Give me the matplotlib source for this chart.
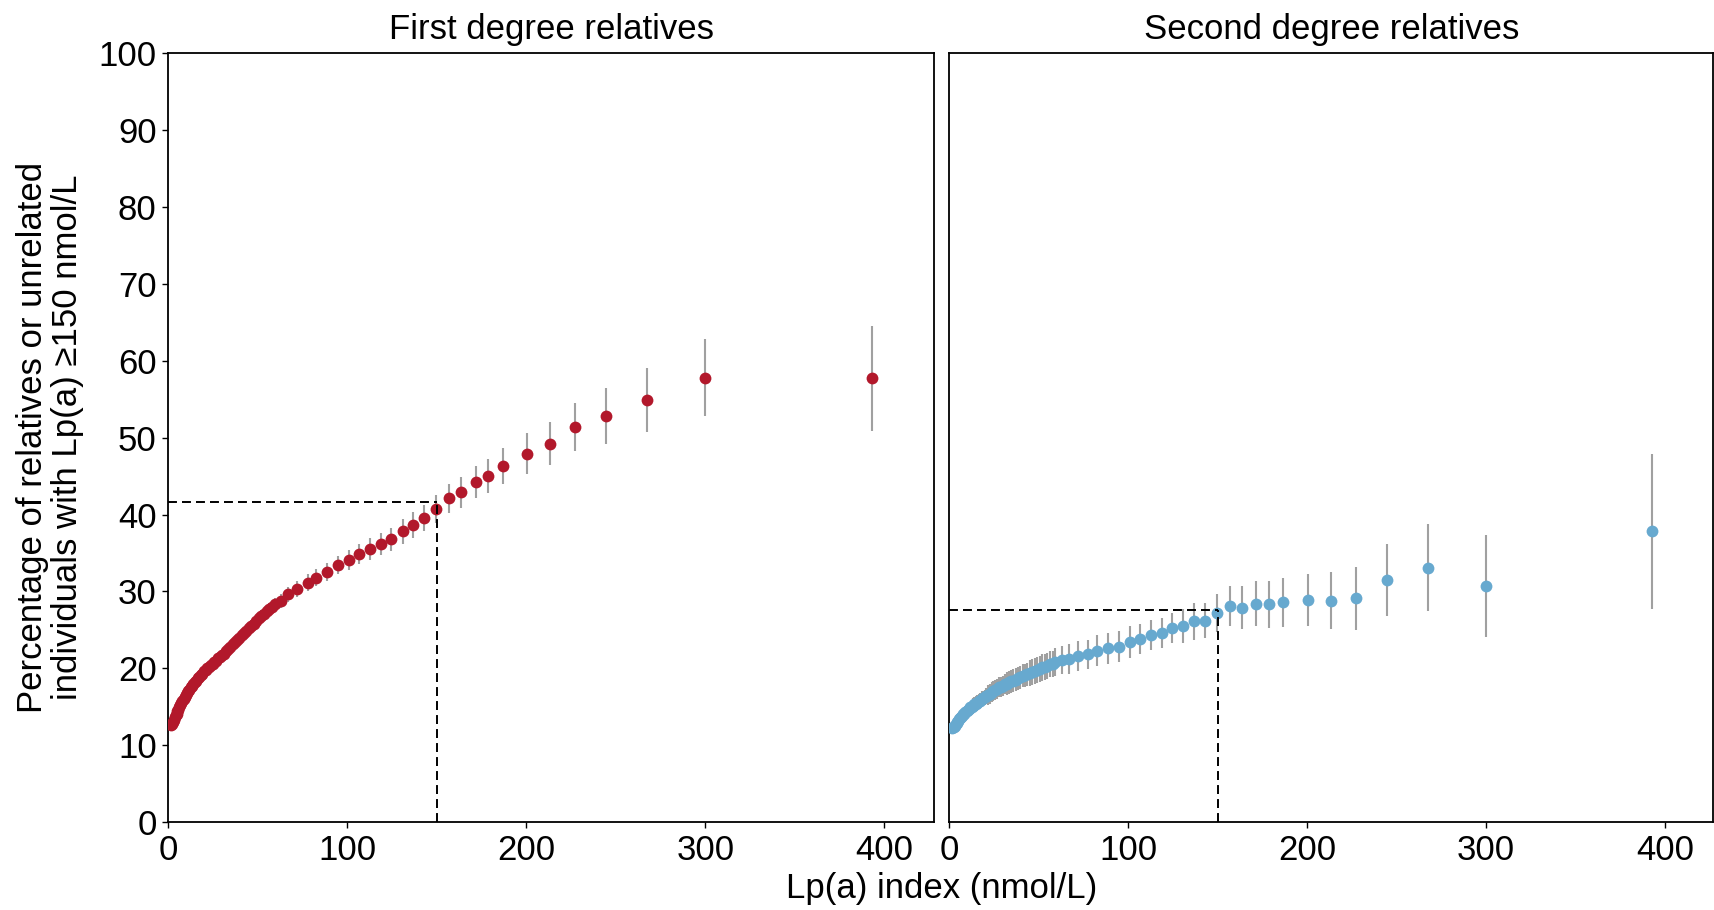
import matplotlib
matplotlib.use("Agg")
import matplotlib.pyplot as plt

# Lp(a) index values (shared by both panels)
lpa = [1.5, 2.0, 2.5, 3.0, 3.5, 4.0, 4.5, 5.0, 5.5, 6.0,
       6.6, 7.2, 7.8, 8.4, 9.0, 9.6, 10.3, 11.0, 11.7, 12.4,
       13.1, 13.9, 14.7, 15.5, 16.3, 17.1, 18.0, 18.9, 19.8, 20.7,
       21.6, 22.6, 23.6, 24.6, 25.6, 26.6, 27.7, 28.8, 29.9, 31.0,
       32.2, 33.4, 34.6, 35.8, 37.0, 38.3, 39.6, 40.9, 42.2, 43.5,
       44.8, 46.2, 47.6, 49.0, 50.4, 51.8, 53.3, 54.8, 56.3, 57.8,
       59.3, 62.9, 66.8, 71.8, 77.7, 82.7, 88.5, 94.8, 100.7, 106.7,
       112.6, 118.6, 124.5, 130.8, 136.6, 142.7, 149.4, 156.7, 163.6, 171.6,
       178.7, 186.7, 200.4, 213.4, 227.4, 244.4, 267.4, 300.1, 393.0]

# first degree relatives: % with Lp(a) >= 150 and half-width of CI
first_pct = [12.6, 12.8, 13.0, 13.3, 13.6, 13.9, 14.1, 14.4, 14.6, 14.9,
             15.2, 15.5, 15.8, 16.0, 16.3, 16.5, 16.8, 17.0, 17.2, 17.5,
             17.7, 18.0, 18.2, 18.4, 18.7, 18.9, 19.1, 19.3, 19.6, 19.8,
             20.0, 20.2, 20.4, 20.6, 20.8, 21.0, 21.3, 21.5, 21.7, 21.9,
             22.2, 22.5, 22.8, 23.1, 23.4, 23.7, 24.0, 24.3, 24.6, 24.9,
             25.2, 25.5, 25.8, 26.1, 26.5, 26.8, 27.1, 27.4, 27.7, 28.0,
             28.3, 28.8, 29.6, 30.3, 31.1, 31.8, 32.5, 33.4, 34.1, 34.9,
             35.5, 36.2, 36.8, 37.8, 38.6, 39.5, 40.7, 42.1, 42.9, 44.2,
             45.0, 46.3, 47.9, 49.2, 51.4, 52.8, 54.9, 57.8, 57.7]
first_err = [0.2] * 10 + [0.3] * 10 + [0.4] * 10 + [0.5] * 10 + [0.6] * 10 + [0.8] * 10 + \
            [0.9, 0.9, 1.0, 1.0, 1.1, 1.1, 1.2, 1.2, 1.3, 1.3,
             1.4, 1.4, 1.5, 1.6, 1.7, 1.7, 1.8, 1.9, 2.0, 2.1,
             2.2, 2.35, 2.65, 2.8, 3.15, 3.6, 4.1, 5.0, 6.85]

# second degree relatives
second_pct = [12.2, 12.3, 12.4, 12.5, 12.7, 12.9, 13.0, 13.2, 13.4, 13.5,
              13.7, 13.8, 14.0, 14.1, 14.3, 14.4, 14.6, 14.7, 14.9, 15.0,
              15.1, 15.3, 15.4, 15.5, 15.7, 15.8, 16.0, 16.1, 16.2, 16.4,
              16.5, 16.7, 16.9, 17.0, 17.2, 17.3, 17.5, 17.6, 17.7, 17.9,
              18.0, 18.2, 18.3, 18.4, 18.5, 18.7, 18.8, 19.0, 19.1, 19.2,
              19.4, 19.5, 19.6, 19.8, 19.9, 20.1, 20.2, 20.3, 20.5, 20.6,
              20.8, 21.1, 21.2, 21.6, 21.8, 22.3, 22.6, 22.8, 23.4, 23.8,
              24.3, 24.6, 25.2, 25.5, 26.1, 26.2, 27.2, 28.1, 27.9, 28.4,
              28.3, 28.6, 28.9, 28.8, 29.1, 31.5, 33.1, 30.7, 37.8]
second_err = [0.4] * 10 + [0.7] * 10 + [1.0] * 10 + [1.3] * 10 + [1.5] * 10 + [1.7] * 10 + \
             [1.8, 1.8, 1.9, 1.9, 1.9, 2.0, 2.0, 2.0, 2.05, 2.0,
              1.95, 2.0, 1.95, 2.2, 2.4, 2.3, 2.5, 2.6, 2.75, 2.9,
              3.0, 3.2, 3.35, 3.7, 4.1, 4.65, 5.65, 6.65, 10.1]

# estimate at Lp(a) index = 150
cutoff = 150
first_at_cutoff = 41.6
second_at_cutoff = 27.6

plt.rcParams['font.family'] = ['Liberation Sans', 'DejaVu Sans']

fig = plt.figure(figsize=(17.14, 9.10), dpi=100)
ax1 = fig.add_axes([0.0983, 0.0967, 0.4468, 0.8447])
ax2 = fig.add_axes([0.5539, 0.0967, 0.4457, 0.8447])

panels = [
    (ax1, first_pct, first_err, '#B2182B', first_at_cutoff, 'First degree relatives', 428),
    (ax2, second_pct, second_err, '#67A9CF', second_at_cutoff, 'Second degree relatives', 427),
]

for ax, pct, err, color, est, title, xmax in panels:
    ax.errorbar(lpa, pct, yerr=err, fmt='none', ecolor='#a0a0a0', elinewidth=1.5, zorder=2)
    ax.plot(lpa, pct, 'o', color=color, markersize=8.5, markeredgewidth=0, zorder=3)
    ax.plot([0, cutoff], [est, est], color='black', lw=1.4, linestyle=(0, (4.6, 2.6)), zorder=4)
    ax.plot([cutoff, cutoff], [0, est], color='black', lw=1.4, linestyle=(0, (4.6, 2.6)), zorder=4)
    ax.set_xlim(0, xmax)
    ax.set_ylim(0, 100)
    ax.set_xticks([0, 100, 200, 300, 400])
    ax.set_yticks(range(0, 101, 10))
    ax.set_title(title, fontsize=25, pad=10)
    ax.tick_params(labelsize=25, length=4.5, width=1.0, pad=4)
    for s in ax.spines.values():
        s.set_linewidth(1.3)
        s.set_color('black')

ax2.tick_params(axis='y', left=False, labelleft=False)

fig.text(0.5496, 0.024, 'Lp(a) index (nmol/L)', fontsize=25, ha='center', va='center')
fig.text(0.0292, 0.519, 'Percentage of relatives or unrelated\nindividuals with Lp(a) \u2265150 nmol/L',
         fontsize=25, rotation=90, ha='center', va='center', multialignment='center', linespacing=1.1)

fig.savefig('out.png', dpi=100)
